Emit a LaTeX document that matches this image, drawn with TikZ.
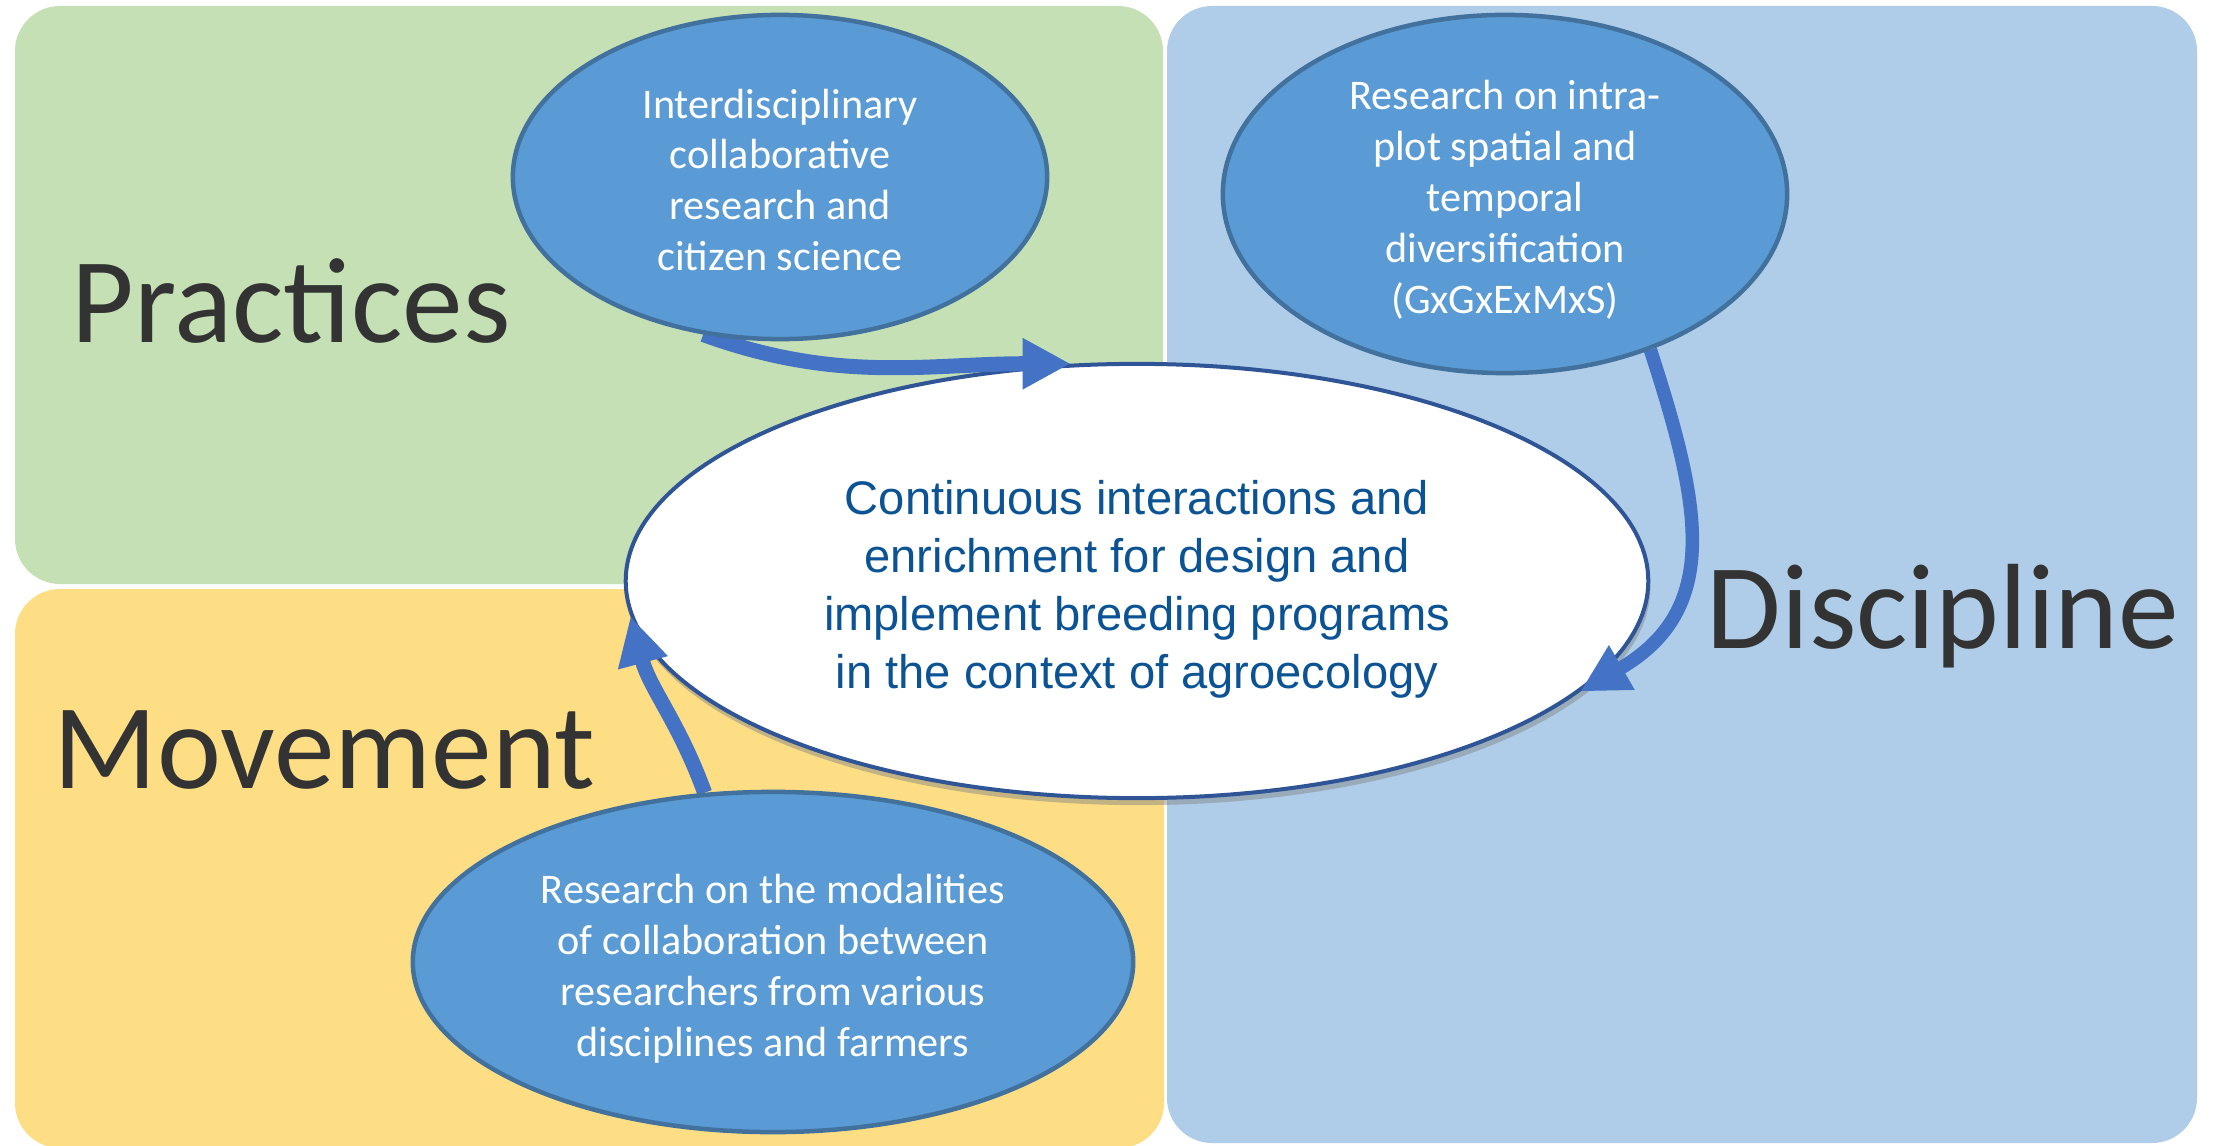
\documentclass[tikz,border=0pt]{standalone}
\usepackage{fontspec}
\setmainfont{Carlito}
\newfontfamily\arialfont{Liberation Sans}
\usepackage{tikz}
\usetikzlibrary{shapes.geometric, arrows.meta, shadows}
\definecolor{practgreen}{HTML}{C5E0B4}
\definecolor{movyellow}{HTML}{FDDE84}
\definecolor{discblue}{HTML}{AFCDE9}
\definecolor{bubblefill}{HTML}{5B9BD5}
\definecolor{bubbleline}{HTML}{41719C}
\definecolor{flowblue}{HTML}{4472C4}
\definecolor{coreline}{HTML}{2F5597}
\definecolor{coretext}{HTML}{0B5394}
\definecolor{labelgrey}{HTML}{333333}
\pgfdeclarelayer{front}
\pgfsetlayers{main,front}

\begin{document}
\begin{tikzpicture}[x=0.01cm, y=0.01cm,
  panel/.style={rounded corners=0.45cm},
  heading/.style={anchor=base west, inner sep=0, text=labelgrey, font=\fontsize{34.5}{40}\selectfont},
  bubble/.style={ellipse, fill=bubblefill, draw=bubbleline, line width=0.045cm, inner sep=0},
  bubbletext/.style={inner sep=0, align=center, text=white, font=\fontsize{12}{14.5}\selectfont},
  flow/.style={color=flowblue, line width=0.15cm, -{Triangle[length=0.48cm, width=0.48cm]}}]
\useasboundingbox (0,0) rectangle (2215,-1146);
\fill[white] (0,0) rectangle (2215,-1146);
\fill[practgreen, panel] (15,-6) rectangle (1163,-584);
\fill[movyellow, panel] (15,-589) rectangle (1164,-1148);
\fill[discblue, panel] (1167,-6) rectangle (2197,-1143);
\node[heading] (practices) at (71,-343) {Practices};
\node[heading] (movement) at (53,-788) {Movement};
\node[heading] (discipline) at (1706,-648) {Discipline};
\node[ellipse, draw=coreline, fill=white, line width=0.04cm, minimum width=10.22cm, minimum height=4.34cm,
  inner sep=0, drop shadow={shadow xshift=0.02cm, shadow yshift=-0.07cm, opacity=0.45}] (core) at (1137,-581) {};
\node[inner sep=0, align=center, text=coretext, font=\arialfont\fontsize{13.4}{16.5}\selectfont] (coretext) at (1137,-589)
  {Continuous interactions and\\enrichment for design and\\implement breeding programs\\in the context of agroecology};
\begin{pgfonlayer}{front}
\node[bubble, minimum width=5.34cm, minimum height=3.24cm] (inter) at (780,-177) {};
\node[bubbletext] (intertext) at (780,-180)
  {Interdisciplinary\\collaborative\\research and\\citizen science};
\node[bubble, minimum width=5.64cm, minimum height=3.58cm] (plot) at (1505,-194) {};
\node[bubbletext] (plottext) at (1505,-200)
  {Research on intra-\\plot spatial and\\temporal\\diversification\\(GxGxExMxS)};
\node[bubble, minimum width=7.2cm, minimum height=3.4cm] (modal) at (773,-962) {};
\node[bubbletext] (modaltext) at (773,-969)
  {Research on the modalities\\of collaboration between\\researchers from various\\disciplines and farmers};
\end{pgfonlayer}
\draw[flow] (inter.-116) to[out=-20, in=180] (core.107);
\draw[flow, line width=0.135cm] (plot.-47) to[out=-72, in=30, looseness=1.2] (core.-14.3);
\draw[flow] (modal.112.5) to[out=110, in=-75] (core.184.2);
\end{tikzpicture}
\end{document}
